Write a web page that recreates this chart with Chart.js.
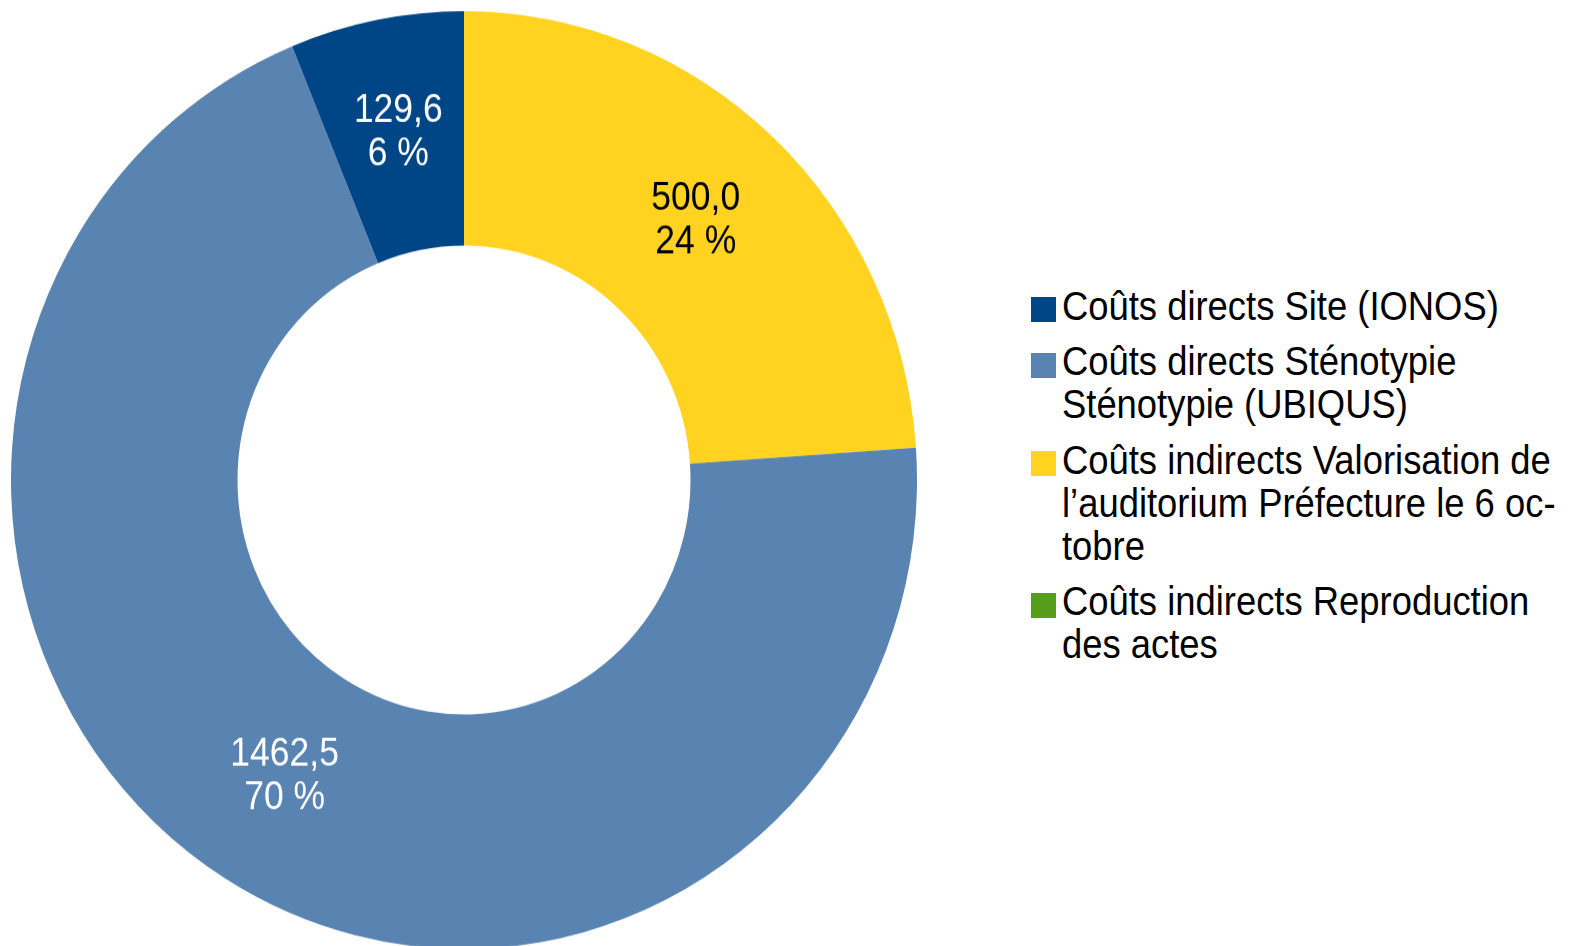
<!DOCTYPE html>
<html>
<head>
<meta charset="utf-8">
<script src="https://cdn.jsdelivr.net/npm/chart.js@4.4.1/dist/chart.umd.min.js"></script>
<style>
  html, body { margin: 0; padding: 0; background: #fff; width: 1570px; height: 946px; overflow: hidden; }
  body { position: relative; font-family: "Liberation Sans", Arial, sans-serif; }
  #wrap { position: absolute; left: 0; top: 16px; width: 928px; height: 928px;
          transform: scaleY(1.035); transform-origin: 464px 464px; }
  #legend { position: absolute; left: 0; top: 0; }
  .sq { position: absolute; width: 21px; height: 21px; border: 2px solid; box-sizing: content-box; }
  .ln { position: absolute; white-space: nowrap; font-size: 36.4px; line-height: 46px; height: 46px; color: #000;
        transform: scaleY(1.13); transform-origin: 0 35.5px; }
</style>
</head>
<body>
<div id="wrap"><canvas id="c" width="928" height="928"></canvas></div>
<div id="legend"></div>
<script>
// ---- data ----
const categories = [
  "Coûts directs Site (IONOS)",
  "Coûts directs Sténotypie Sténotypie (UBIQUS)",
  "Coûts indirects Valorisation de l’auditorium Préfecture le 6 octobre",
  "Coûts indirects Reproduction des actes"
];
const values = [129.6, 1462.5, 500.0, 0];
const colors = ["#004586", "#5983b0", "#ffd320", "#579d1c"];
const labelColors = ["#ffffff", "#ffffff", "#000000", "#ffffff"];
// legend lines as wrapped in the original
const legendLines = [
  ["Coûts directs Site (IONOS)"],
  ["Coûts directs Sténotypie", "Sténotypie (UBIQUS)"],
  ["Coûts indirects Valorisation de", "l’auditorium Préfecture le 6 oc-", "tobre"],
  ["Coûts indirects Reproduction", "des actes"]
];

const total = values.reduce((a, b) => a + b, 0);

// slices run counter-clockwise from the top in the original: feed them reversed
const order = values.map((_, i) => i).reverse();

const labelPlugin = {
  id: 'sliceLabels',
  afterDatasetsDraw(chart) {
    const ctx = chart.ctx;
    const meta = chart.getDatasetMeta(0);
    meta.data.forEach((arc, j) => {
      const i = order[j];
      const v = values[i];
      if (!v) return;
      const p = arc.tooltipPosition();
      const l1 = v.toFixed(1).replace('.', ',');
      const l2 = Math.round(v / total * 100) + ' %';
      ctx.save();
      ctx.fillStyle = labelColors[i];
      ctx.font = '35.5px "Liberation Sans", Arial, sans-serif';
      ctx.textAlign = 'center';
      ctx.textBaseline = 'alphabetic';
      [[l1, -12.5], [l2, 29.5]].forEach(([t, dy]) => {
        ctx.save();
        ctx.translate(p.x, p.y + dy);
        ctx.scale(1, 1.08);
        ctx.fillText(t, 0, 0);
        ctx.restore();
      });
      ctx.restore();
    });
  }
};

new Chart(document.getElementById('c'), {
  type: 'doughnut',
  data: {
    labels: order.map(i => categories[i]),
    datasets: [{
      data: order.map(i => values[i]),
      backgroundColor: order.map(i => colors[i]),
      borderWidth: 0,
      hoverOffset: 0
    }]
  },
  options: {
    responsive: false,
    animation: false,
    cutout: '50%',
    rotation: 0,
    layout: { padding: 11 },
    plugins: { legend: { display: false }, tooltip: { enabled: false } }
  },
  plugins: [labelPlugin]
});

// ---- HTML legend built from the same arrays ----
function hexA(hex, a) {
  const n = parseInt(hex.slice(1), 16);
  return `rgba(${(n >> 16) & 255},${(n >> 8) & 255},${n & 255},${a})`;
}
const leg = document.getElementById('legend');
let yPos = 284.5;
legendLines.forEach((lines, i) => {
  const sq = document.createElement('div');
  sq.className = 'sq';
  sq.style.left = '1031px';
  sq.style.top = (yPos + 35.5 - 23) + 'px';
  sq.style.background = colors[i];
  sq.style.borderColor = hexA(colors[i], 0.45);
  leg.appendChild(sq);
  lines.forEach((t, k) => {
    const d = document.createElement('div');
    d.className = 'ln';
    d.style.left = '1062px';
    d.style.top = yPos + 'px';
    d.textContent = t;
    leg.appendChild(d);
    if (k < lines.length - 1) yPos += 43;
  });
  yPos += 55.5;
});
</script>
</body>
</html>
